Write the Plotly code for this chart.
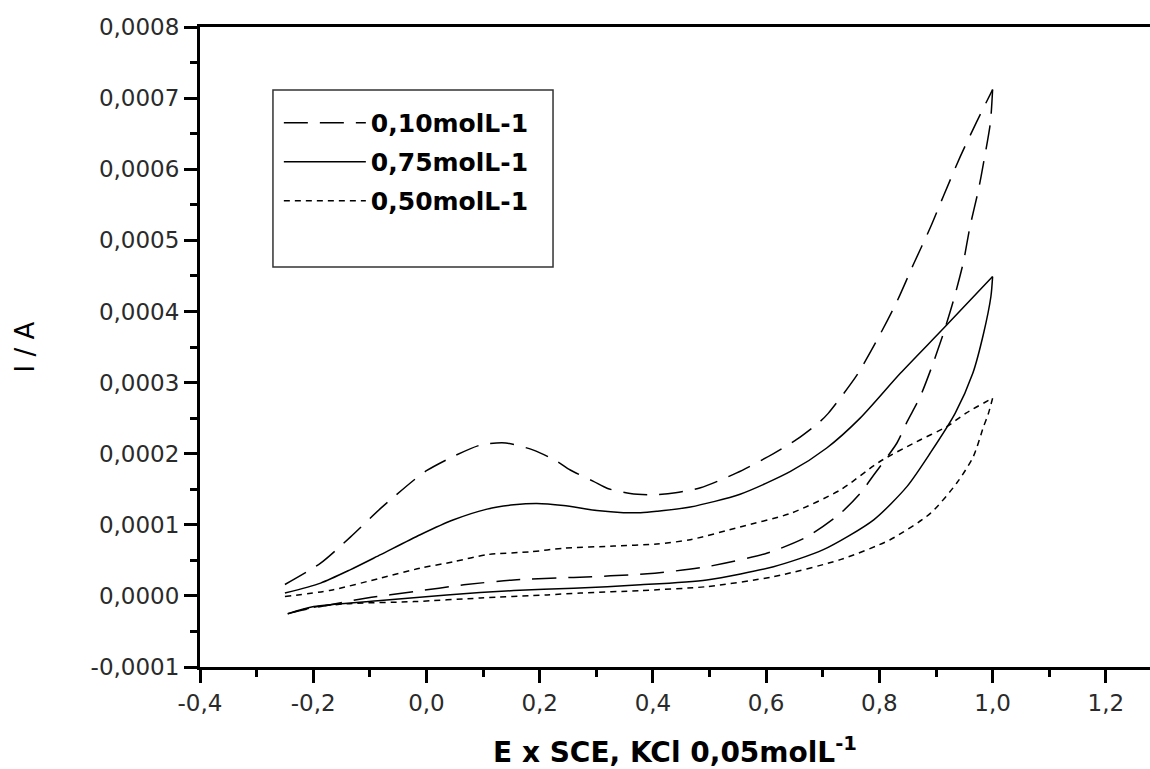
import plotly.graph_objects as go

# ---------------- data ----------------
series_names = ["0,10molL-1", "0,75molL-1", "0,50molL-1"]

# 0,10 mol/L  (dashed)
e_010_up = [-0.25, -0.187, -0.134, -0.081, -0.022, 0.0, 0.042, 0.095, 0.14, 0.189,
            0.231, 0.254, 0.295, 0.32, 0.36, 0.40, 0.44, 0.484, 0.548, 0.613,
            0.654, 0.695, 0.71, 0.76, 0.796, 0.831, 0.86, 0.89, 0.913, 0.943,
            0.972, 1.0]
i_010_up = [0.16e-4, 0.46e-4, 0.83e-4, 1.23e-4, 1.63e-4, 1.76e-4, 1.94e-4, 2.12e-4, 2.15e-4, 2.05e-4,
            1.89e-4, 1.77e-4, 1.61e-4, 1.51e-4, 1.44e-4, 1.42e-4, 1.45e-4, 1.52e-4, 1.73e-4, 2.00e-4,
            2.20e-4, 2.45e-4, 2.57e-4, 3.10e-4, 3.60e-4, 4.14e-4, 4.66e-4, 5.18e-4, 5.62e-4, 6.18e-4,
            6.67e-4, 7.12e-4]
e_010_down = [1.0, 0.996, 0.984, 0.975, 0.96, 0.948, 0.931, 0.913, 0.893, 0.872, 0.849,
              0.831, 0.79, 0.766, 0.731, 0.672, 0.601, 0.495, 0.39, 0.26, 0.154,
              0.066, -0.022, -0.105, -0.2, -0.245]
i_010_down = [7.12e-4, 6.65e-4, 6.09e-4, 5.71e-4, 5.19e-4, 4.68e-4, 4.16e-4, 3.69e-4, 3.23e-4, 2.80e-4, 2.45e-4,
              2.15e-4, 1.70e-4, 1.44e-4, 1.16e-4, 0.83e-4, 0.60e-4, 0.41e-4, 0.31e-4, 0.26e-4, 0.225e-4,
              0.155e-4, 0.06e-4, -0.03e-4, -0.17e-4, -0.25e-4]

# 0,75 mol/L  (solid)
e_075_up = [-0.25, -0.187, -0.134, -0.081, -0.011, 0.048, 0.107, 0.154, 0.195, 0.242,
            0.301, 0.348, 0.378, 0.407, 0.466, 0.554, 0.643, 0.707, 0.766, 0.837,
            0.913, 1.0]
i_075_up = [0.04e-4, 0.18e-4, 0.37e-4, 0.58e-4, 0.86e-4, 1.07e-4, 1.22e-4, 1.28e-4, 1.30e-4, 1.27e-4,
            1.20e-4, 1.17e-4, 1.17e-4, 1.19e-4, 1.25e-4, 1.43e-4, 1.75e-4, 2.08e-4, 2.50e-4, 3.13e-4,
            3.76e-4, 4.49e-4]
e_075_down = [1.0, 0.997, 0.984, 0.965, 0.934, 0.89, 0.849, 0.79, 0.701, 0.613, 0.495,
              0.378, 0.26, 0.154, 0.036, -0.081, -0.199, -0.245]
i_075_down = [4.49e-4, 4.21e-4, 3.69e-4, 3.13e-4, 2.57e-4, 2.01e-4, 1.54e-4, 1.07e-4, 0.65e-4, 0.41e-4, 0.225e-4,
              0.155e-4, 0.108e-4, 0.075e-4, 0.014e-4, -0.066e-4, -0.15e-4, -0.25e-4]

# 0,50 mol/L  (dotted)
e_050_up = [-0.25, -0.169, -0.081, -0.011, 0.048, 0.107, 0.184, 0.242, 0.331, 0.407,
            0.466, 0.554, 0.643, 0.731, 0.801, 0.866, 0.919, 0.953, 1.0]
i_050_up = [-0.01e-4, 0.08e-4, 0.25e-4, 0.39e-4, 0.48e-4, 0.58e-4, 0.62e-4, 0.67e-4, 0.70e-4, 0.73e-4,
            0.79e-4, 0.97e-4, 1.16e-4, 1.49e-4, 1.89e-4, 2.17e-4, 2.38e-4, 2.57e-4, 2.78e-4]
e_050_down = [1.0, 0.992, 0.984, 0.966, 0.937, 0.89, 0.819, 0.731, 0.613, 0.495, 0.378,
              0.272, 0.213, 0.095, -0.022, -0.14, -0.2, -0.245]
i_050_down = [2.78e-4, 2.55e-4, 2.38e-4, 1.96e-4, 1.59e-4, 1.16e-4, 0.79e-4, 0.51e-4, 0.27e-4, 0.13e-4, 0.075e-4,
              0.04e-4, 0.014e-4, -0.03e-4, -0.08e-4, -0.11e-4, -0.16e-4, -0.25e-4]

x_tickvals = [-0.4, -0.2, 0.0, 0.2, 0.4, 0.6, 0.8, 1.0, 1.2]
x_ticktext = ["-0,4", "-0,2", "0,0", "0,2", "0,4", "0,6", "0,8", "1,0", "1,2"]
y_tickvals = [-0.0001, 0.0, 0.0001, 0.0002, 0.0003, 0.0004, 0.0005, 0.0006, 0.0007, 0.0008]
y_ticktext = ["-0,0001", "0,0000", "0,0001", "0,0002", "0,0003", "0,0004",
              "0,0005", "0,0006", "0,0007", "0,0008"]

x_title = "E x SCE, KCl 0,05molL<sup>-1</sup>"
y_title = "I / A"

# ---------------- figure ----------------
branches = [
    (e_010_up, i_010_up, e_010_down, i_010_down),
    (e_075_up, i_075_up, e_075_down, i_075_down),
    (e_050_up, i_050_up, e_050_down, i_050_down),
]
dashes = ["24px,12px", "solid", "6px,5px"]

fig = go.Figure()
for (xu, yu, xd, yd), name, dash in zip(branches, series_names, dashes):
    style = dict(color="black", width=1.5, dash=dash, shape="spline", smoothing=0.7)
    fig.add_trace(go.Scatter(x=xu, y=yu, mode="lines", name=name, legendgroup=name,
                             line=style))
    fig.add_trace(go.Scatter(x=xd, y=yd, mode="lines", name=name, legendgroup=name,
                             showlegend=False, line=style))

tick_font = dict(family="DejaVu Sans", size=23, color="#2a2a2a")
axis_common = dict(
    showline=True, linewidth=3, linecolor="black",
    ticks="outside", ticklen=13, tickwidth=2.5, tickcolor="black",
    showgrid=False, zeroline=False, tickfont=tick_font,
    tickmode="array", automargin=False,
)

fig.update_layout(
    width=1150, height=769,
    margin=dict(l=200, r=0, t=27, b=102),
    paper_bgcolor="white", plot_bgcolor="white",
    xaxis=dict(
        **axis_common,
        range=[-0.4, 1.278], mirror=True,
        tickvals=x_tickvals, ticktext=x_ticktext,
        minor=dict(ticks="outside", ticklen=7, tickwidth=2.5, tickcolor="black",
                   dtick=0.1, tick0=-0.4, showgrid=False),
        title=dict(text=x_title, standoff=36,
                   font=dict(family="DejaVu Sans", size=28, color="black", weight="bold")),
    ),
    yaxis=dict(
        **axis_common,
        range=[-0.0001, 0.0008],
        tickvals=y_tickvals, ticktext=y_ticktext,
        minor=dict(ticks="outside", ticklen=7, tickwidth=2.5, tickcolor="black",
                   dtick=0.00005, tick0=0, showgrid=False),
        title=dict(text=y_title, standoff=49,
                   font=dict(family="DejaVu Sans", size=26, color="black")),
    ),
    showlegend=True,
    legend=dict(
        x=0.083, y=0.886, xanchor="left", yanchor="top",
        bgcolor="rgba(0,0,0,0)", borderwidth=0,
        itemwidth=82, tracegroupgap=3.5,
        font=dict(family="DejaVu Sans", size=25, color="black", weight="bold"),
    ),
    shapes=[dict(type="rect", xref="paper", yref="paper",
                 x0=0.0768, x1=0.3716, y0=0.625, y1=0.9016,
                 line=dict(color="#333333", width=1.5), fillcolor="rgba(0,0,0,0)",
                 layer="below")],
)

fig.write_html("out.html")
